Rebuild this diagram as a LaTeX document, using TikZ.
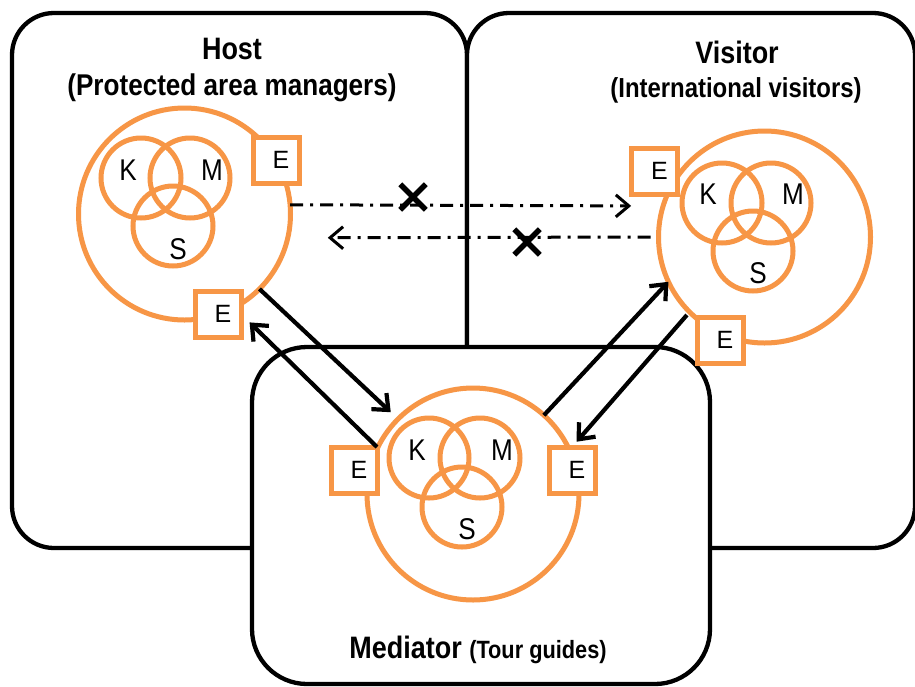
\documentclass[tikz,border=0pt]{standalone}
\usepackage{fontspec}
\setmainfont{Liberation Sans}
\usetikzlibrary{arrows.meta,shapes.misc}
\definecolor{kmsorange}{HTML}{F79646}
% slightly condensed lettering
\newcommand{\narrow}[1]{\scalebox{0.87}[1]{#1}}

\begin{document}
\begin{tikzpicture}[x=1pt,y=-1pt,
  panel/.style={draw=black, line width=4.3pt, rounded corners=42pt, fill=white},
  ring/.style={circle, draw=kmsorange, line width=5pt, inner sep=0pt, outer sep=0pt, minimum size=212pt},
  venn/.style={circle, draw=kmsorange, line width=5pt, inner sep=0pt, outer sep=0pt, minimum size=80pt},
  ebox/.style={rectangle, draw=kmsorange, fill=white, line width=5pt, inner sep=0pt, outer sep=0pt,
    minimum size=46pt, font=\fontsize{25}{25}\selectfont},
  kms/.style={anchor=base, inner sep=0pt, font=\fontsize{30}{30}\selectfont},
  title/.style={anchor=base, inner sep=0pt, font=\bfseries\fontsize{31}{31}\selectfont},
  subtitle/.style={anchor=base, inner sep=0pt, font=\bfseries\fontsize{27.5}{27.5}\selectfont},
  flow/.style={draw=black, line width=4.2pt, -{Straight Barb[length=13pt,width=22pt]}},
  blocked/.style={draw=black, line width=3pt, dash pattern=on 13pt off 7pt on 3pt off 7pt,
    -{Straight Barb[length=13pt,width=22pt]}},
  xmark/.style={cross out, draw=black, line width=5.5pt, minimum size=20pt, inner sep=0pt}
]
\useasboundingbox (0,0) rectangle (915,686);

% the three stakeholder panels
\draw[panel] (12,13) rectangle (467,548);
\draw[panel] (467,13) rectangle (915,548);
\draw[panel, rounded corners=55pt] (252,347) rectangle (710,684);

% headings
\node[title] (hosttitle) at (232,59) {\narrow{Host}};
\node[title, font=\bfseries\fontsize{30}{30}\selectfont] (hostsub) at (232,95) {\narrow{(Protected area managers)}};
\node[title] (vistitle) at (737,63) {\narrow{Visitor}};
\node[subtitle] (vissub) at (736,97) {\narrow{(International visitors)}};
\node[anchor=base, inner sep=0pt] (medtitle) at (478,658)
  {\narrow{\bfseries\fontsize{31}{31}\selectfont Mediator \fontsize{25}{25}\selectfont(Tour guides)}};

% host: knowledge, motivation, skills
\node[ring] (hring) at (184.5,214) {};
\node[venn] (hk) at (141,178) {};
\node[venn] (hm) at (190,178) {};
\node[venn] (hs) at (173,226) {};
\node[kms] (hkl) at (128,180) {\narrow{K}};
\node[kms] (hml) at (212,180) {\narrow{M}};
\node[kms] (hsl) at (178,259) {\narrow{S}};
\node[ebox] (het) at (276,160) {\hspace*{10pt}E};
\node[ebox] (hel) at (218,314) {\hspace*{10pt}E};

% visitor
\node[ring] (vring) at (764.5,237) {};
\node[venn] (vk) at (722,203) {};
\node[venn] (vm) at (771,203) {};
\node[venn] (vs) at (753,251) {};
\node[kms] (vkl) at (708,204) {\narrow{K}};
\node[kms] (vml) at (793,204) {\narrow{M}};
\node[kms] (vsl) at (758,283) {\narrow{S}};
\node[ebox] (vet) at (654.5,171) {\hspace*{10pt}E};
\node[ebox] (veb) at (720,340) {\hspace*{10pt}E};

% mediator
\node[ring] (mring) at (473,494) {};
\node[venn] (mk) at (429,458) {};
\node[venn] (mm) at (480,458) {};
\node[venn] (ms) at (462,507) {};
\node[kms] (mkl) at (417,460) {\narrow{K}};
\node[kms] (mml) at (502,460) {\narrow{M}};
\node[kms] (msl) at (467,539) {\narrow{S}};
\node[ebox] (mel) at (354,470) {\hspace*{10pt}E};
\node[ebox] (mer) at (572,470) {\hspace*{10pt}E};

% exchanges through the mediator
\draw[flow, shorten >=10pt] (hring.-45) -- (mring.135);
\draw[flow, shorten >=12pt] (mel.north east) -- (hel.east);
\draw[flow] (mring.48) -- (vring.205);
\draw[flow, shorten <=4pt, shorten >=7pt] (vring.225) -- (mer.north);

% direct exchanges that do not happen
\draw[blocked, shorten >=32pt] (hring.5) -- (vring.163);
\draw[blocked, shorten <=8pt, shorten >=40pt] (vring.180) -- (hring.-13);
\node[xmark] (xtop) at (413,197) {};
\node[xmark] (xbot) at (527,242) {};
\end{tikzpicture}
\end{document}
